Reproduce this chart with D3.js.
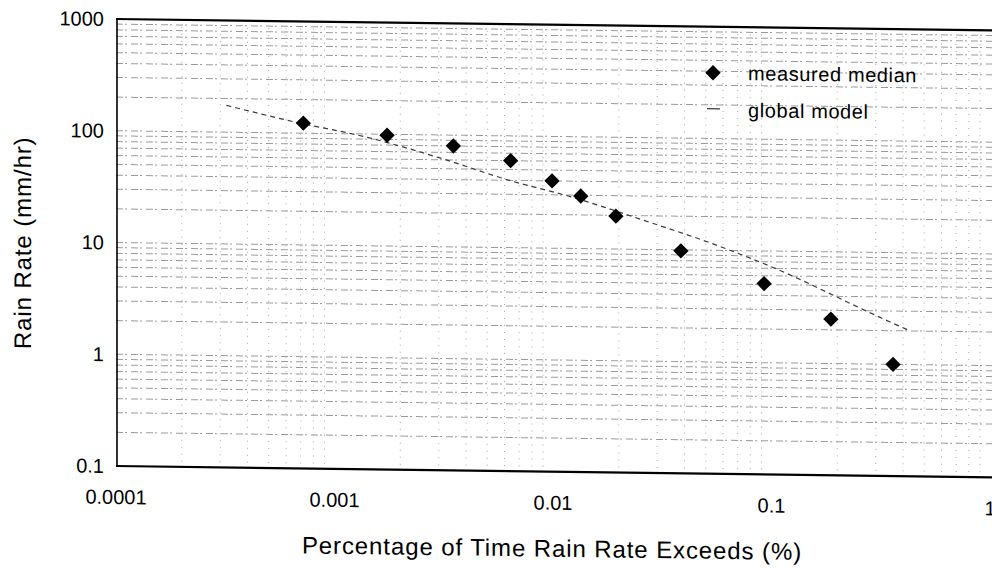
<!DOCTYPE html>
<html>

<head>
    <meta charset="utf-8" />
    <title>Rain rate exceedance</title>
    <script src="https://d3js.org/d3.v7.min.js"></script>
    <style>
        body {
            margin: 0;
            background: #fff;
        }

        text {
            font-family: "Liberation Sans", Arial, sans-serif;
            fill: #000;
        }

        .hgrid line {
            stroke: #9a9a9a;
            stroke-width: 1px;
            stroke-dasharray: 7, 2, 2, 4;
        }

        .vgrid line {
            stroke: #a8a8a8;
            stroke-width: 1px;
            stroke-dasharray: 1, 6;
        }

        .frame line {
            stroke: #000;
        }
    </style>
</head>

<body>
    <svg id="chart" width="992" height="568"></svg>
    <script>
        // measured median (percent of time, rain rate mm/hr)
        var measuredPct = [0.00072, 0.00174, 0.0035, 0.0064, 0.0099, 0.0134, 0.0194, 0.0385, 0.0925, 0.187, 0.36];
        var measuredRate = [123, 98, 80, 60, 40, 29.5, 19.7, 9.8, 5.1, 2.5, 1.0];

        // global model curve
        var modelPct = [0.00032, 0.00063, 0.00146, 0.00306, 0.0066, 0.0113, 0.029, 0.052, 0.104, 0.28, 0.43];
        var modelRate = [174, 128, 92, 62, 39, 30, 17, 11.7, 7.0, 2.9, 2.0];

        var xTicks = [0.0001, 0.001, 0.01, 0.1, 1];
        var xTickLabels = ["0.0001", "0.001", "0.01", "0.1", "1"];
        var yTicks = [0.1, 1, 10, 100, 1000];
        var yTickLabels = ["0.1", "1", "10", "100", "1000"];
        var legendLabels = ["measured median", "global model"];

        !(function() {
            "use strict"
            var plotLeft = 116, plotTop = 19, plotBottom = 466, plotRight = 990

            var x = d3.scaleLog().domain([0.0001, 1]).range([plotLeft, plotRight])
            var y = d3.scaleLog().domain([0.1, 1000]).range([plotBottom, plotTop])

            var svg = d3.select("#chart")
            // the page is a slightly sheared scan, so everything sits in one skewed group
            var skew = 0.745
            var g = svg.append("g")
                .attr("transform", "translate(0," + (-plotLeft * Math.tan(skew * Math.PI / 180)) + ") skewY(" + skew + ")")

            // minor grid values (2..9 in every decade)
            var yGrid = [], xGrid = []
            for (var d = -1; d < 3; d++) {
                for (var m = 1; m <= 9; m++) {
                    if (d == -1 && m == 1) continue
                    yGrid.push(m * Math.pow(10, d))
                }
            }
            for (var e = -4; e < 0; e++) {
                for (var k = 2; k <= 9; k++) xGrid.push(k * Math.pow(10, e))
            }

            g.append("g").attr("class", "vgrid")
                .selectAll("line").data(xGrid).enter().append("line")
                .attr("x1", function(v) { return x(v) })
                .attr("x2", function(v) { return x(v) })
                .attr("y1", plotTop)
                .attr("y2", plotBottom)

            g.append("g").attr("class", "hgrid")
                .selectAll("line").data(yGrid).enter().append("line")
                .attr("x1", plotLeft)
                .attr("x2", 1010)
                .attr("y1", function(v) { return y(v) })
                .attr("y2", function(v) { return y(v) })

            // frame
            var frame = g.append("g").attr("class", "frame")
            frame.append("line").attr("x1", plotLeft + 1).attr("x2", plotLeft + 1).attr("y1", plotTop).attr("y2", plotBottom)
                .style("stroke-width", 1.6)
            frame.append("line").attr("x1", plotLeft).attr("x2", 1010).attr("y1", plotTop).attr("y2", plotTop)
                .style("stroke-width", 2.2)
            frame.append("line").attr("x1", plotLeft).attr("x2", 1010).attr("y1", plotBottom).attr("y2", plotBottom)
                .style("stroke-width", 2.2)

            // tick labels
            g.append("g").selectAll("text").data(yTicks).enter().append("text")
                .attr("x", 104)
                .attr("y", function(v) { return y(v) })
                .attr("dy", "0.35em")
                .attr("text-anchor", "end")
                .style("font-size", "20px")
                .text(function(v, i) { return yTickLabels[i] })

            g.append("g").selectAll("text").data(xTicks).enter().append("text")
                .attr("x", function(v) { return x(v) })
                .attr("y", 504)
                .attr("text-anchor", "middle")
                .style("font-size", "20px")
                .text(function(v, i) { return xTickLabels[i] })

            // axis titles
            g.append("text")
                .attr("x", 552)
                .attr("y", 551)
                .attr("text-anchor", "middle")
                .style("font-size", "24px")
                .style("letter-spacing", "0.9px")
                .text("Percentage of Time Rain Rate Exceeds (%)")

            g.append("text")
                .attr("transform", "translate(31,244) rotate(-90)")
                .attr("text-anchor", "middle")
                .style("font-size", "24px")
                .style("letter-spacing", "0.9px")
                .text("Rain Rate (mm/hr)")

            // global model
            var modelData = modelPct.map(function(p, i) { return [p, modelRate[i]] })
            var line = d3.line()
                .x(function(d) { return x(d[0]) })
                .y(function(d) { return y(d[1]) })
                .curve(d3.curveMonotoneX)

            g.append("path")
                .datum(modelData)
                .attr("d", line)
                .style("fill", "none")
                .style("stroke", "#3a3a3a")
                .style("stroke-width", 1.2)
                .style("stroke-dasharray", "5,4")

            // measured median
            var diamond = d3.symbol().type(d3.symbolSquare).size(118)
            g.append("g").selectAll("path").data(measuredPct).enter().append("path")
                .attr("d", diamond)
                .attr("transform", function(p, i) {
                    return "translate(" + x(p) + "," + y(measuredRate[i]) + ") rotate(45)"
                })
                .style("fill", "#000")

            // legend
            var legend = g.append("g")
            legend.append("path")
                .attr("d", diamond)
                .attr("transform", "translate(713,65) rotate(45)")
                .style("fill", "#000")
            legend.append("line")
                .attr("x1", 707).attr("x2", 720).attr("y1", 101).attr("y2", 101)
                .style("stroke", "#3a3a3a")
                .style("stroke-width", 1.2)
            legend.selectAll("text").data(legendLabels).enter().append("text")
                .attr("x", 748)
                .attr("y", function(d, i) { return 72 + i * 37 })
                .style("font-size", "20px")
                .style("letter-spacing", "0.6px")
                .text(function(d) { return d })
        }());
    </script>
</body>

</html>
